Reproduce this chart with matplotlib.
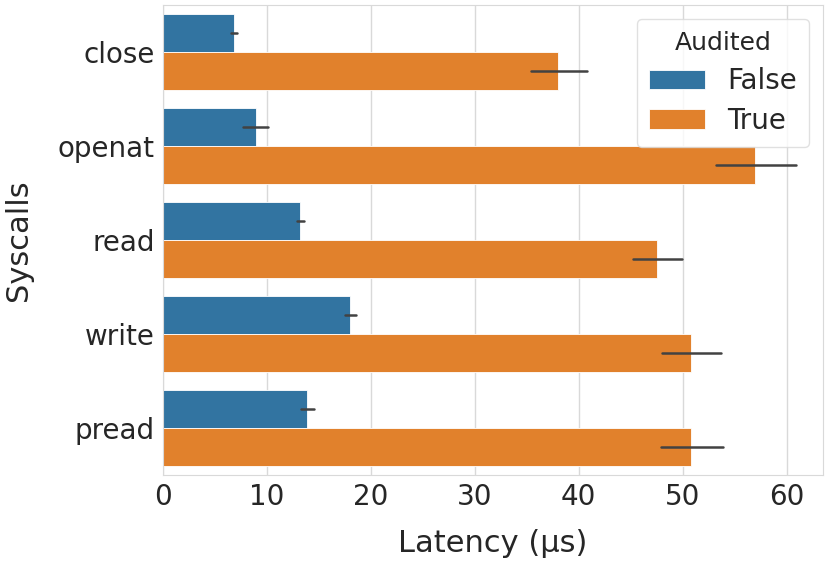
import matplotlib
matplotlib.use("Agg")
import matplotlib.pyplot as plt
import numpy as np
import seaborn as sns

syscalls = ["close", "openat", "read", "write", "pread"]
lat_false = [6.8, 8.9, 13.2, 18.0, 13.9]
false_lo = [6.5, 7.7, 12.9, 17.5, 13.3]
false_hi = [7.1, 10.1, 13.6, 18.6, 14.5]
lat_true = [38.0, 57.0, 47.5, 50.8, 50.8]
true_lo = [35.4, 53.2, 45.2, 48.0, 47.9]
true_hi = [40.8, 60.9, 49.9, 53.7, 53.9]

sns.set_style("whitegrid")
plt.rcParams['font.family'] = ['DejaVu Sans']

fig = plt.figure(figsize=(8.3, 5.67), dpi=100)
ax = fig.add_axes([0.1964, 0.1623, 0.7952, 0.8289])

y = np.arange(len(syscalls))
h = 0.4
blue = "#3274a1"
orange = "#e1812c"

ax.barh(y - h / 2, lat_false, height=h, color=blue, edgecolor="white",
        linewidth=0.6, label="False", zorder=2)
ax.barh(y + h / 2, lat_true, height=h, color=orange, edgecolor="white",
        linewidth=0.6, label="True", zorder=2)

# confidence intervals
for i in range(len(syscalls)):
    ax.plot([false_lo[i], false_hi[i]], [y[i] - h / 2] * 2, color=".26", lw=1.8, zorder=3)
    ax.plot([true_lo[i], true_hi[i]], [y[i] + h / 2] * 2, color=".26", lw=1.8, zorder=3)

ax.set_yticks(y)
ax.set_yticklabels(syscalls)
ax.set_ylim(4.5, -0.5)
ax.set_xlim(0, 63.5)
ax.set_xticks([0, 10, 20, 30, 40, 50, 60])
ax.tick_params(labelsize=20, colors=".15", length=0, pad=6)
ax.set_xlabel("Latency (µs)", fontsize=22, color=".15", labelpad=13)
ax.set_ylabel("Syscalls", fontsize=22, color=".15", labelpad=18)
ax.grid(axis="y", visible=False)
ax.grid(axis="x", color=".85", lw=1)
ax.set_axisbelow(True)
for s in ax.spines.values():
    s.set_color(".85")

leg = ax.legend(title="Audited", loc="upper right", fontsize=20, title_fontsize=18,
                bbox_to_anchor=(1.0, 1.0), borderaxespad=0.5, borderpad=0.45,
                labelspacing=0.42)
leg.get_frame().set_edgecolor(".85")

fig.savefig("out.png", dpi=100)
